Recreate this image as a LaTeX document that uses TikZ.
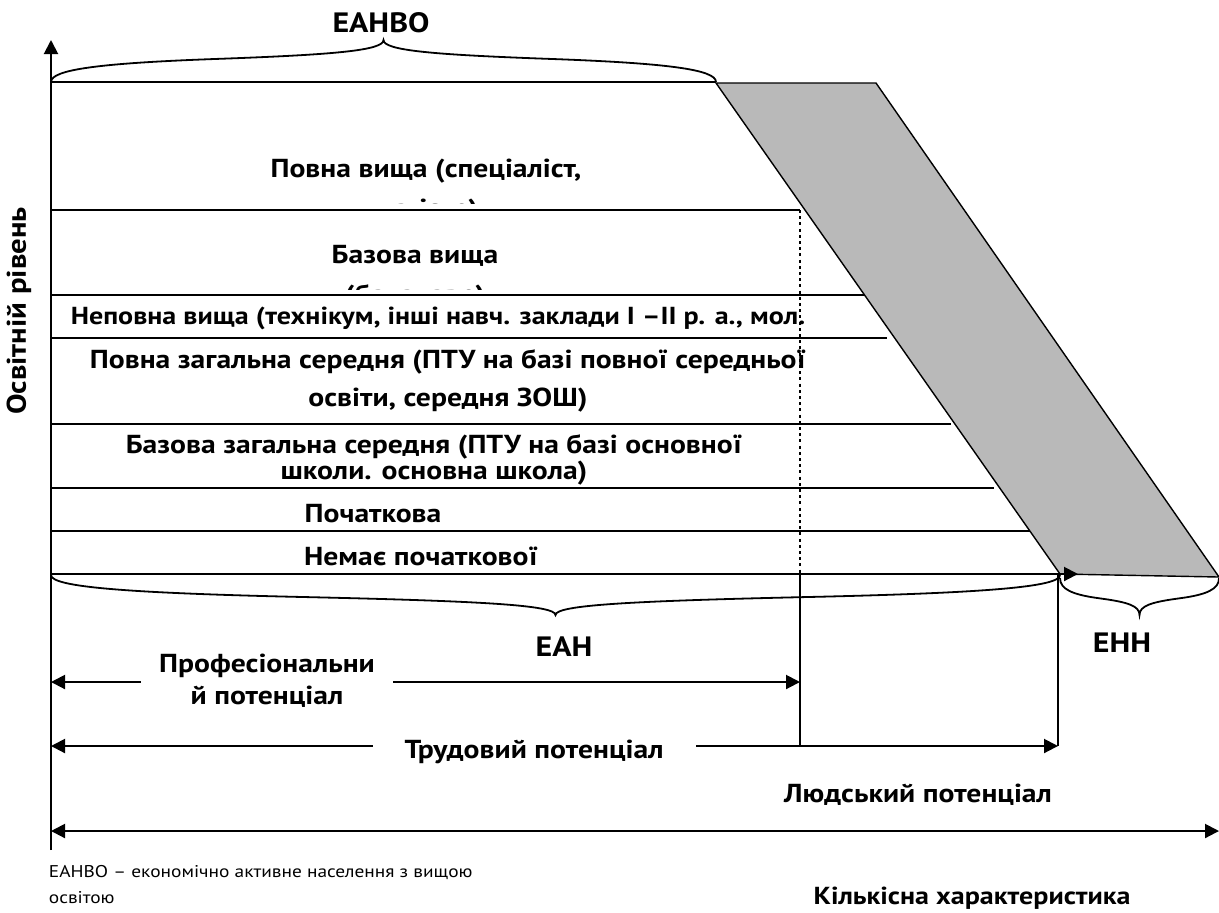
\documentclass[tikz,border=0pt]{standalone}
\usepackage{fontspec}
\setmainfont{PT Sans}[FakeStretch=1.14]
\usetikzlibrary{arrows.meta}

\tikzset{
  lvl/.style={font=\bfseries\fontsize{13}{19}\selectfont, align=center, inner sep=0pt},
  note/.style={anchor=west, font=\fontsize{8.5}{10}\selectfont, inner sep=0pt},
}

% curly brace as in the scan: x1, x2, y, height (>0 up, <0 down)
\newcommand{\wbrace}[4]{%
\draw (#1,#3) .. controls (#1,{#3-0.3*(#4)}) and ({#1+0.075*(#2-#1)},{#3-0.45*(#4)}) .. ({#1+0.25*(#2-#1)},{#3-0.55*(#4)})
 .. controls ({#1+0.425*(#2-#1)},{#3-0.65*(#4)}) and ({(#1+#2)/2},{#3-0.75*(#4)}) .. ({(#1+#2)/2},{#3-(#4)})
 .. controls ({(#1+#2)/2},{#3-0.75*(#4)}) and ({#2-0.425*(#2-#1)},{#3-0.65*(#4)}) .. ({#2-0.25*(#2-#1)},{#3-0.55*(#4)})
 .. controls ({#2-0.075*(#2-#1)},{#3-0.45*(#4)}) and (#2,{#3-0.3*(#4)}) .. (#2,#3);}

\begin{document}
\begin{tikzpicture}[>={Triangle[length=7pt,width=7pt]}, x=0.5pt, y=-0.5pt, line width=0.9pt]

\useasboundingbox (0,0) rectangle (1219,912);

%\draw[step=50, gray!30] (0,0) grid (1219,912);

% axes
\coordinate (ytop) at (51,40);
\coordinate (ybot) at (51,850);
\coordinate (o) at (51,574);
\coordinate (xend) at (1078,574);

\draw[->, line width=1pt] (ybot) -- (ytop);

% levels of education
\foreach \y/\xe in {82/716, 210/800, 295/865, 338/887, 424/951, 488/994, 531/1037}
\draw (51,\y) -- (\xe,\y);

% shaded band
\draw[fill=gray!55, line width=0.7pt] (716,83) -- (876,83) -- (1219,577) -- (1060,574) -- cycle;

\draw[->, line width=1pt] (o) -- (xend);

% borders of the potentials
\coordinate (pd) at (800,574);
\coordinate (td) at (1058,574);
\draw[line width=1.4pt, dash pattern=on 1.5pt off 1.6pt] (800,210) -- (pd);
\draw (pd) -- (800,746);
\draw (td) -- (1058,746);

% braces
\wbrace{51}{716}{82}{42}
\wbrace{51}{1060}{575}{-40}
\wbrace{1060}{1219}{578}{-37}

\node[lvl, font=\bfseries\fontsize{14}{16}\selectfont] (eanvo) at (381,23) {ЕАНВО};
\node[lvl, font=\bfseries\fontsize{14}{16}\selectfont] (ean) at (564,647) {ЕАН};
\node[lvl, font=\bfseries\fontsize{14}{16}\selectfont] (enn) at (1122,643) {ЕНН};

\node[lvl, rotate=90, font=\bfseries\fontsize{13.5}{16}\selectfont] (osvit) at (19,311) {Освітній рівень};

% level texts
\begin{scope}
\clip (52,84) rectangle (799,203);
\node[lvl, font=\bfseries\fontsize{13}{20}\selectfont] (pvysha) at (426,191.5) {Повна вища (спеціаліст,\\магістр)};
\end{scope}
\begin{scope}
\clip (52,212) rectangle (799,289);
\node[lvl, font=\bfseries\fontsize{13}{20}\selectfont] (bvysha) at (415,277.5) {Базова вища\\(бакалавр)};
\end{scope}
\node[lvl, font=\bfseries\fontsize{12.3}{19}\selectfont] (nvysha) at (438,318) {Неповна вища (технікум, інші навч. заклади І –ІІ р. а., мол.};
\node[lvl] (pzag) at (448,381) {Повна загальна середня (ПТУ на базі повної середньої\\освіти, середня ЗОШ)};
\node[lvl, font=\bfseries\fontsize{13}{13}\selectfont] (bzag) at (434,460) {Базова загальна середня (ПТУ на базі основної\\школи. основна школа)};
\node[lvl] (poch) at (373,514) {Початкова};
\node[lvl] (nemae) at (421,556) {Немає початкової};

% potentials
\coordinate (pl) at (51,682);
\coordinate (pr) at (800,682);
\coordinate (tl) at (51,746);
\coordinate (tr) at (1058,746);
\coordinate (ll) at (51,831);
\coordinate (lr) at (1219,831);

\draw[<->, line width=1pt] (pl) -- (pr);
\node[lvl, fill=white, inner xsep=9pt, inner ysep=2pt, font=\bfseries\fontsize{13}{16}\selectfont] (prof) at (267,681) {Професіональни\\й потенціал};

\draw[<->, line width=1pt] (tl) -- (tr);
\node[lvl, fill=white, inner xsep=16pt, inner ysep=1pt] (trud) at (534,752) {Трудовий потенціал};

\node[lvl] (lyud) at (918,795) {Людський потенціал};
\draw[<->, line width=1pt] (ll) -- (lr);

% notes
\node[note] (note1) at (48,873) {ЕАНВО – економічно активне населення з вищою};
\node[note] (note2) at (48,898) {освітою};
\node[lvl, font=\bfseries\fontsize{12.3}{19}\selectfont] (kilk) at (972,898) {Кількісна характеристика};

\end{tikzpicture}
\end{document}
